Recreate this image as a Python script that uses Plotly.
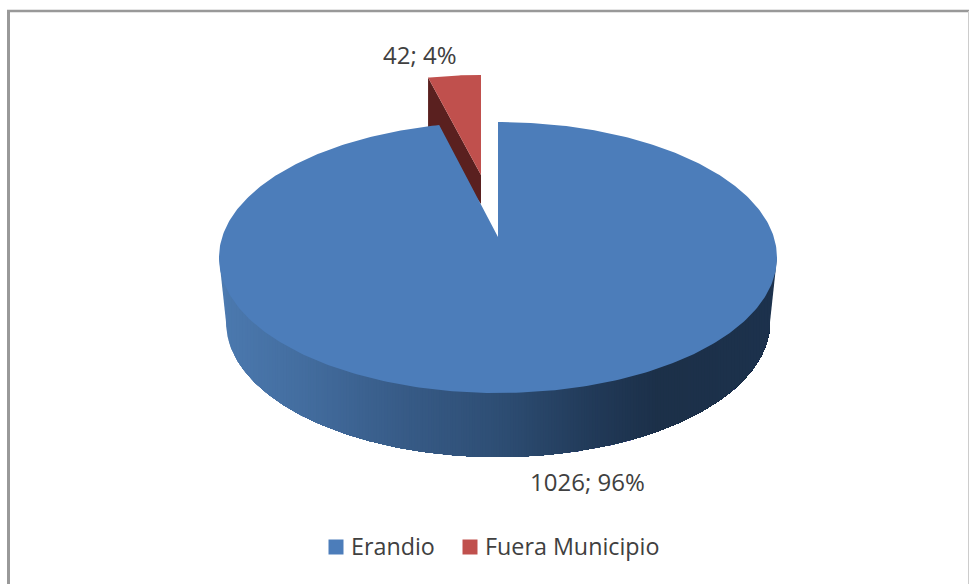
import numpy as np
import plotly.graph_objects as go

categories = ["Erandio", "Fuera Municipio"]
values = [1026, 42]
top_colors = ["#4c7dba", "#c0504d"]
red_side_color = "#5a201f"
side_stops_x = [219, 300, 400, 500, 600, 660, 777]
side_stops_rgb = [
    [76, 122, 176], [68, 110, 160], [56, 92, 136], [46, 78, 116],
    [33, 57, 87], [28, 48, 73], [29, 50, 77],
]

# Projected geometry of the 3D disc, in pixels
CX, CY, A, B = 498.0, 257.5, 279.0, 135.5
APEX_Y = 237.0
BCX, BCY, BA, BB = 498.0, 322.0, 272.0, 135.0
RED_APEX = (481.0, 175.0)
RED_SCALE_X, RED_SCALE_Y = 0.90, 0.87
RED_DROP = 29.0

D = (CY - APEX_Y) / B
shares = np.array(values) / sum(values)
split = 360 * shares[0]


def disc_point(theta_deg):
    """Perspective projection of a rim point, clockwise from the back."""
    t = np.radians(theta_deg)
    u, v = np.sin(t), np.cos(t)
    den = 1 + D * v
    return CX + A * u * np.sqrt(1 - D * D) / den, CY - B * (v + D) / den


fig = go.Figure()


def poly(x, y, color):
    fig.add_trace(go.Scatter(
        x=list(x), y=list(y), mode="lines", fill="toself", fillcolor=color,
        line=dict(color=color, width=0), showlegend=False, hoverinfo="skip",
    ))


# Side of the blue slice: each strip runs on under the next to hide seams
phi = np.linspace(0, np.pi, 300)
rim_x = BCX - BA * np.cos(phi)
rim_y = BCY + BB * np.sin(phi)
edges = np.linspace(CX - BA, CX + BA, 200)
for x0 in edges[:-1]:
    keep = rim_x >= x0
    xs = np.r_[x0, rim_x[keep]]
    low = np.r_[BCY + BB * np.sqrt(max(0, 1 - ((x0 - BCX) / BA) ** 2)), rim_y[keep]]
    rgb = [np.interp(x0 + 1.4, side_stops_x, [s[i] for s in side_stops_rgb]) for i in range(3)]
    col = "rgb(%d,%d,%d)" % tuple(rgb)
    poly(np.r_[x0, xs[::-1][0], xs[::-1]], np.r_[CY, CY, low[::-1]], col)

# Connect top-rim extremes to bottom-rim extremes with the side's end colours
poly([CX - A, CX - BA, CX - BA], [CY, BCY, CY], "rgb(76,122,176)")
poly([CX + A, CX + BA, CX + BA], [CY, BCY, CY], "rgb(29,50,77)")

# Exploded red slice
th = np.linspace(split, 360, 30)
rx, ry = disc_point(th)
ax, ay = disc_point(0)[0], APEX_Y
red_x = RED_APEX[0] + (rx - ax) * RED_SCALE_X
red_y = RED_APEX[1] + (ry - ay) * RED_SCALE_Y
poly([red_x[0], RED_APEX[0], RED_APEX[0], red_x[0]],
     [red_y[0], RED_APEX[1], RED_APEX[1] + RED_DROP, red_y[0] + 55],
     red_side_color)
poly(np.r_[RED_APEX[0], red_x], np.r_[RED_APEX[1], red_y], top_colors[1])

# Blue top face
th = np.linspace(0, split, 400)
bx, by = disc_point(th)
poly(np.r_[ax, bx], np.r_[APEX_Y, by], top_colors[0])

pct = [round(s * 100) for s in shares]
TXT = dict(family="Open Sans", size=24, color="#404040")
LEG_TXT = dict(family="Open Sans", size=23.3, color="#404040")
fig.add_annotation(x=587, y=481, text=f"{values[0]}; {pct[0]}%", showarrow=False, font=TXT)
fig.add_annotation(x=420, y=54, text=f"{values[1]}; {pct[1]}%", showarrow=False, font=TXT)

# Legend row
LEG_Y = 547
for name, color, mx, tx in zip(categories, top_colors, [336, 470], [349, 483]):
    fig.add_trace(go.Scatter(
        x=[mx], y=[LEG_Y], mode="markers", name=name, showlegend=False,
        marker=dict(symbol="square", size=15, color=color, line=dict(width=0)),
    ))
    fig.add_annotation(x=tx, y=LEG_Y - 1, text=name, showarrow=False, font=LEG_TXT, xanchor="left")

# Chart frame
fig.add_shape(type="line", x0=8.5, x1=8.5, y0=11, y1=584, line=dict(color="#999999", width=3))
fig.add_shape(type="line", x0=7, x1=969, y0=11, y1=11, line=dict(color="#999999", width=2.5))
fig.add_shape(type="line", x0=968.5, x1=968.5, y0=11, y1=584, line=dict(color="#cccccc", width=1))

fig.update_layout(
    width=969, height=584, margin=dict(l=0, r=0, t=0, b=0), showlegend=False,
    paper_bgcolor="white", plot_bgcolor="white",
    xaxis=dict(range=[0, 969], visible=False, fixedrange=True),
    yaxis=dict(range=[584, 0], visible=False, fixedrange=True),
)
fig.write_html(
    "out.html",
    config={"displayModeBar": False},
    post_script="document.body.style.margin='0';document.documentElement.style.overflow='hidden';",
)
